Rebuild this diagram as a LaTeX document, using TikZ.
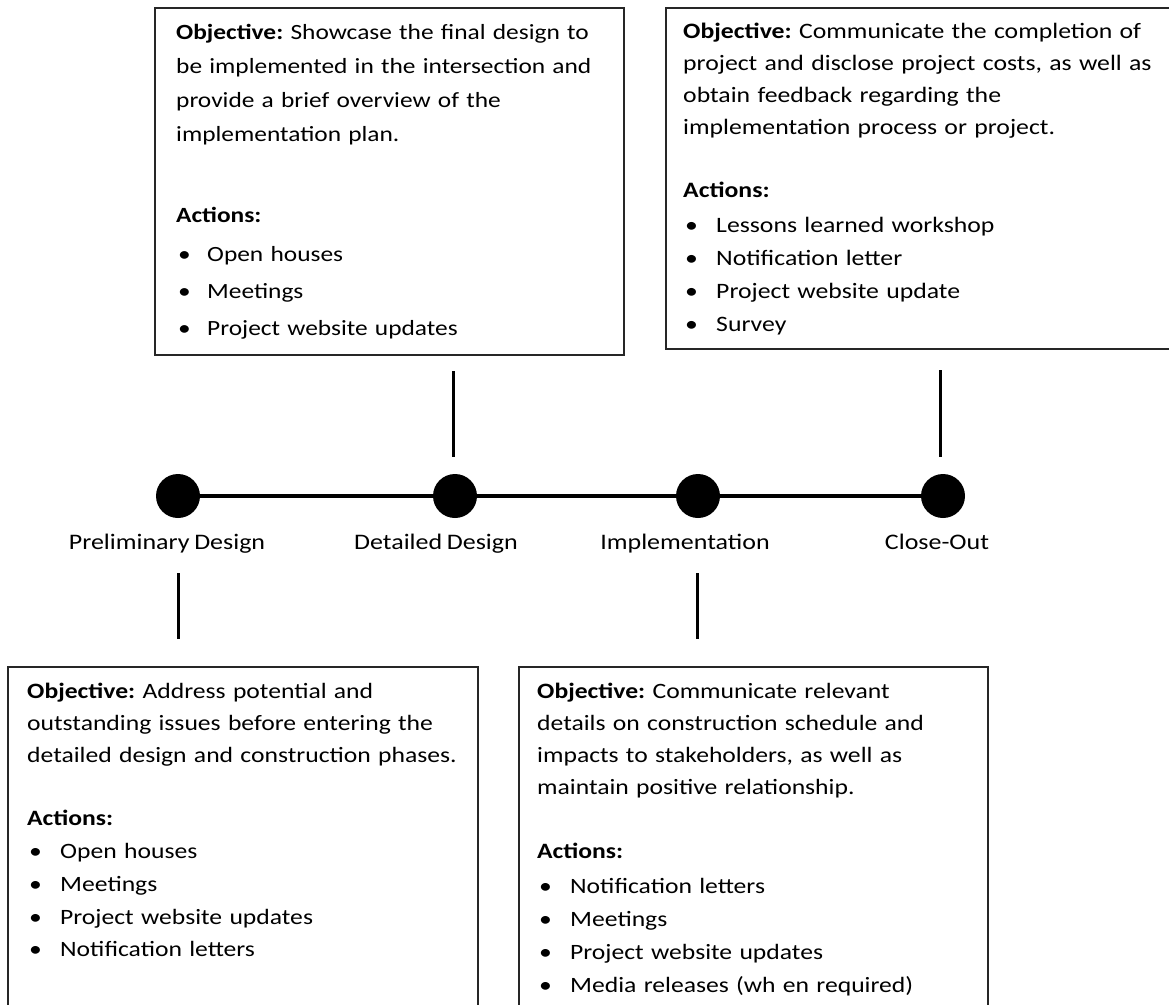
\documentclass[tikz,border=0pt]{standalone}
\usepackage{fontspec}
\setmainfont{Carlito}[FakeStretch=1.17,WordSpace=0.8]
\frenchspacing
% bullet entry: fixed-width bullet column followed by the item text
\newcommand\bulitem[2][33pt]{\makebox[#1][l]{\hspace{2pt}\textbullet}#2}
\begin{document}
\begin{tikzpicture}[x=1pt,y=-1pt,
  infobox/.style={draw=black!85,line width=1.6pt,rectangle,inner sep=0pt,anchor=north west},
  infotext/.style={anchor=base west,inner sep=0pt,text width=560pt,align=left},
  milestone/.style={circle,fill=black,inner sep=0pt,minimum size=44pt},
  phase/.style={anchor=base,inner sep=0pt,font=\fontsize{22.2}{25}\selectfont},
  timeline/.style={line width=3.6pt},
  tick/.style={line width=3pt}]
\useasboundingbox (0,0) rectangle (1169,1004);

% ---- boxes above the timeline ----
\node[infobox,minimum width=469pt,minimum height=347pt] (detbox) at (154,7) {};
\node[infotext,font=\fontsize{21.7}{34}\selectfont] (dettext) at (176,39)
 {\textbf{Objective:} Showcase the final design to\\
  be implemented in the intersection and\\
  provide a brief overview of the\\
  implementation plan.\\[47pt]
  \textbf{Actions:}\\[5pt]
  \bulitem[31pt]{Open houses}\\[3pt]
  \bulitem[31pt]{Meetings}\\[3pt]
  \bulitem[31pt]{Project website updates}};

\node[infobox,minimum width=520pt,minimum height=341pt] (closebox) at (665,7) {};
\node[infotext,font=\fontsize{22}{32}\selectfont] (closetext) at (683,38)
 {\textbf{Objective:} Communicate the completion of\\
  project and disclose project costs, as well as\\
  obtain feedback regarding the\\
  implementation process or project.\\[31pt]
  \textbf{Actions:}\\[3pt]
  \bulitem{Lessons learned workshop}\\[1pt]
  \bulitem{Notification letter}\\[1pt]
  \bulitem{Project website update}\\[1pt]
  \bulitem{Survey}};

% ---- timeline ----
\node[milestone] (m1) at (178,496) {};
\node[milestone] (m2) at (455,496) {};
\node[milestone] (m3) at (698,496) {};
\node[milestone] (m4) at (943,496) {};
\draw[timeline] (m1.center) -- (m2.center) -- (m3.center) -- (m4.center);

\node[phase] (l1) at (167,549) {Preliminary Design};
\node[phase] (l2) at (436,549) {Detailed Design};
\node[phase] (l3) at (685,549) {Implementation};
\node[phase] (l4) at (937,549) {Close-Out};

% ---- ticks between boxes and milestones ----
\coordinate (t2a) at (453,371); \coordinate (t2b) at (453,457);
\coordinate (t4a) at (940,370); \coordinate (t4b) at (940,457);
\coordinate (t1a) at (178,573); \coordinate (t1b) at (178,639);
\coordinate (t3a) at (697,573); \coordinate (t3b) at (697,639);
\draw[tick] (t2a) -- (t2b);
\draw[tick] (t4a) -- (t4b);
\draw[tick] (t1a) -- (t1b);
\draw[tick] (t3a) -- (t3b);

% ---- boxes below the timeline ----
\node[infobox,minimum width=470pt,minimum height=360pt] (prebox) at (7,666) {};
\node[infotext,font=\fontsize{21.9}{32}\selectfont] (pretext) at (27,698)
 {\textbf{Objective:} Address potential and\\
  outstanding issues before entering the\\
  detailed design and construction phases.\\[31pt]
  \textbf{Actions:}\\[1pt]
  \bulitem{Open houses}\\[1pt]
  \bulitem{Meetings}\\[1pt]
  \bulitem{Project website updates}\\[0pt]
  \bulitem{Notification letters}};

\node[infobox,minimum width=469pt,minimum height=360pt] (impbox) at (518,666) {};
\node[infotext,font=\fontsize{21.9}{32}\selectfont] (imptext) at (537,698)
 {\textbf{Objective:} Communicate relevant\\
  details on construction schedule and\\
  impacts to stakeholders, as well as\\
  maintain positive relationship.\\[32pt]
  \textbf{Actions:}\\[3pt]
  \bulitem{Notification letters}\\[1pt]
  \bulitem{Meetings}\\[1pt]
  \bulitem{Project website updates}\\[1pt]
  \bulitem{Media releases (wh en required)}};
\end{tikzpicture}
\end{document}
